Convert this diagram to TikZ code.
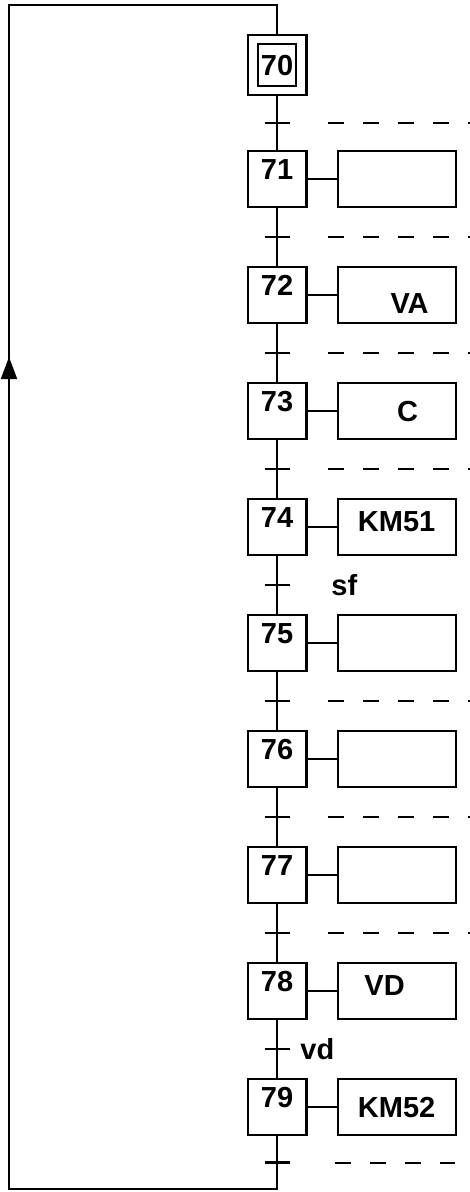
\documentclass[tikz,border=0pt]{standalone}
\usepackage{fontspec}
\setmainfont{Liberation Sans}
\usetikzlibrary{arrows.meta,positioning,fit,calc}

\begin{document}
\begin{tikzpicture}[
  font=\fontsize{14.5pt}{17pt}\selectfont\bfseries,
  stepbox/.style={
    draw,
    line width=1.1pt,
    inner sep=0pt,
    minimum width=29.4pt,
    minimum height=28pt,
    text height=14pt,
    text depth=14pt
  },
  initbox/.style={
    draw,
    line width=1.1pt,
    inner sep=0pt,
    minimum width=19pt,
    minimum height=21pt,
    text height=10.4pt,
    text depth=0pt
  },
  actbox/.style={
    draw,
    line width=1.1pt,
    inner sep=0pt,
    minimum width=59pt,
    minimum height=28pt,
    text height=10.4pt,
    text depth=0pt
  },
  flowline/.style={
    line width=1pt
  },
  tickline/.style={
    line width=1.2pt
  },
  recline/.style={
    line width=1pt,
    dash pattern=on 8pt off 9.5pt
  },
  condtext/.style={
    inner sep=0pt,
    anchor=west
  }
]

  \useasboundingbox (0,0) rectangle (235pt,-596pt);

  % Initial step 70
  \node[initbox] (s70) at (138.5pt,-32.5pt) {70};
  \node[draw, line width=1.1pt, inner xsep=4.65pt, inner ysep=3.9pt, fit=(s70)] (s70o) {};

  % --- Steps 71 to 79 ---
  \node[stepbox, below=27pt of s70o] (s71) {71};
  \node[stepbox, below=28.9pt of s71] (s72) {72};
  \node[stepbox, below=28.9pt of s72] (s73) {73};
  \node[stepbox, below=28.9pt of s73] (s74) {74};
  \node[stepbox, below=28.9pt of s74] (s75) {75};
  \node[stepbox, below=28.9pt of s75] (s76) {76};
  \node[stepbox, below=28.9pt of s76] (s77) {77};
  \node[stepbox, below=28.9pt of s77] (s78) {78};
  \node[stepbox, below=28.9pt of s78] (s79) {79};

  % --- Actions ---
  \node[actbox, right=14.5pt of s71] (a71) {};
  \node[actbox, right=14.5pt of s72, text height=18pt] (a72) {\hspace*{13pt}VA};
  \node[actbox, right=14.5pt of s73] (a73) {\hspace*{11pt}C};
  \node[actbox, right=14.5pt of s74, text depth=6pt] (a74) {KM51};
  \node[actbox, right=14.5pt of s75] (a75) {};
  \node[actbox, right=14.5pt of s76] (a76) {};
  \node[actbox, right=14.5pt of s77] (a77) {};
  \node[actbox, right=14.5pt of s78, text depth=6pt] (a78) {VD\hspace*{12pt}};
  \node[actbox, right=14.5pt of s79] (a79) {KM52};

  \draw[flowline] (s71.east) -- (a71.west);
  \draw[flowline] (s72.east) -- (a72.west);
  \draw[flowline] (s73.east) -- (a73.west);
  \draw[flowline] (s74.east) -- (a74.west);
  \draw[flowline] (s75.east) -- (a75.west);
  \draw[flowline] (s76.east) -- (a76.west);
  \draw[flowline] (s77.east) -- (a77.west);
  \draw[flowline] (s78.east) -- (a78.west);
  \draw[flowline] (s79.east) -- (a79.west);

  % Links between steps
  \draw[flowline] (s70o.south) -- (s71.north);
  \draw[flowline] (s71.south) -- (s72.north);
  \draw[flowline] (s72.south) -- (s73.north);
  \draw[flowline] (s73.south) -- (s74.north);
  \draw[flowline] (s74.south) -- (s75.north);
  \draw[flowline] (s75.south) -- (s76.north);
  \draw[flowline] (s76.south) -- (s77.north);
  \draw[flowline] (s77.south) -- (s78.north);
  \draw[flowline] (s78.south) -- (s79.north);

  % Return loop from 79 back to 70
  \coordinate (looptl) at (4.5pt,-2.5pt);
  \coordinate (loopbl) at (4.5pt,-594.5pt);
  \coordinate (loopbot) at (s79.south |- loopbl);
  \coordinate (looparrow) at (4.5pt,-178.5pt);
  \draw[flowline, line join=miter] (s79.south) -- (loopbot) -- (loopbl) -- (looptl) -| (s70o.north);
  \draw[flowline, -{Triangle[length=11pt,width=8pt]}] ($(loopbl)!0.5!(looparrow)$) -- (looparrow);

  % Transitions
  \coordinate (t71) at ($(s70o.south)!0.5!(s71.north)$);
  \coordinate (t72) at ($(s71.south)!0.5!(s72.north)$);
  \coordinate (t73) at ($(s72.south)!0.5!(s73.north)$);
  \coordinate (t74) at ($(s73.south)!0.5!(s74.north)$);
  \coordinate (t75) at ($(s74.south)!0.5!(s75.north)$);
  \coordinate (t76) at ($(s75.south)!0.5!(s76.north)$);
  \coordinate (t77) at ($(s76.south)!0.5!(s77.north)$);
  \coordinate (t78) at ($(s77.south)!0.5!(s78.north)$);
  \coordinate (t79) at ($(s78.south)!0.5!(s79.north)$);
  \coordinate (t80) at ($(s79.south)!0.5!(loopbot)$);

  \draw[tickline] ($(t71)+(-6.25pt,0)$) -- ($(t71)+(6.25pt,0)$);
  \draw[tickline] ($(t72)+(-6.25pt,0)$) -- ($(t72)+(6.25pt,0)$);
  \draw[tickline] ($(t73)+(-6.25pt,0)$) -- ($(t73)+(6.25pt,0)$);
  \draw[tickline] ($(t74)+(-6.25pt,0)$) -- ($(t74)+(6.25pt,0)$);
  \draw[tickline] ($(t75)+(-6.25pt,0)$) -- ($(t75)+(6.25pt,0)$);
  \draw[tickline] ($(t76)+(-6.25pt,0)$) -- ($(t76)+(6.25pt,0)$);
  \draw[tickline] ($(t77)+(-6.25pt,0)$) -- ($(t77)+(6.25pt,0)$);
  \draw[tickline] ($(t78)+(-6.25pt,0)$) -- ($(t78)+(6.25pt,0)$);
  \draw[tickline] ($(t79)+(-6.25pt,0)$) -- ($(t79)+(6.25pt,0)$);
  \draw[tickline] ($(t80)+(-6.25pt,0)$) -- ($(t80)+(6.25pt,0)$);

  % Receptivities
  \node[condtext, right=27pt of t75] (c75) {sf};
  \node[condtext, right=11.5pt of t79] (c79) {vd};

  \coordinate (recl) at (164pt,0);
  \coordinate (recr) at (235pt,0);
  \coordinate (recl2) at (167.5pt,0);
  \coordinate (recr2) at (227.5pt,0);
  \draw[recline] (recl |- t71) -- (recr |- t71);
  \draw[recline] (recl |- t72) -- (recr |- t72);
  \draw[recline] (recl |- t73) -- (recr |- t73);
  \draw[recline] (recl |- t74) -- (recr |- t74);
  \draw[recline] (recl |- t76) -- (recr |- t76);
  \draw[recline] (recl |- t77) -- (recr |- t77);
  \draw[recline] (recl |- t78) -- (recr |- t78);
  \draw[recline] (recl2 |- t80) -- (recr2 |- t80);

\end{tikzpicture}
\end{document}
